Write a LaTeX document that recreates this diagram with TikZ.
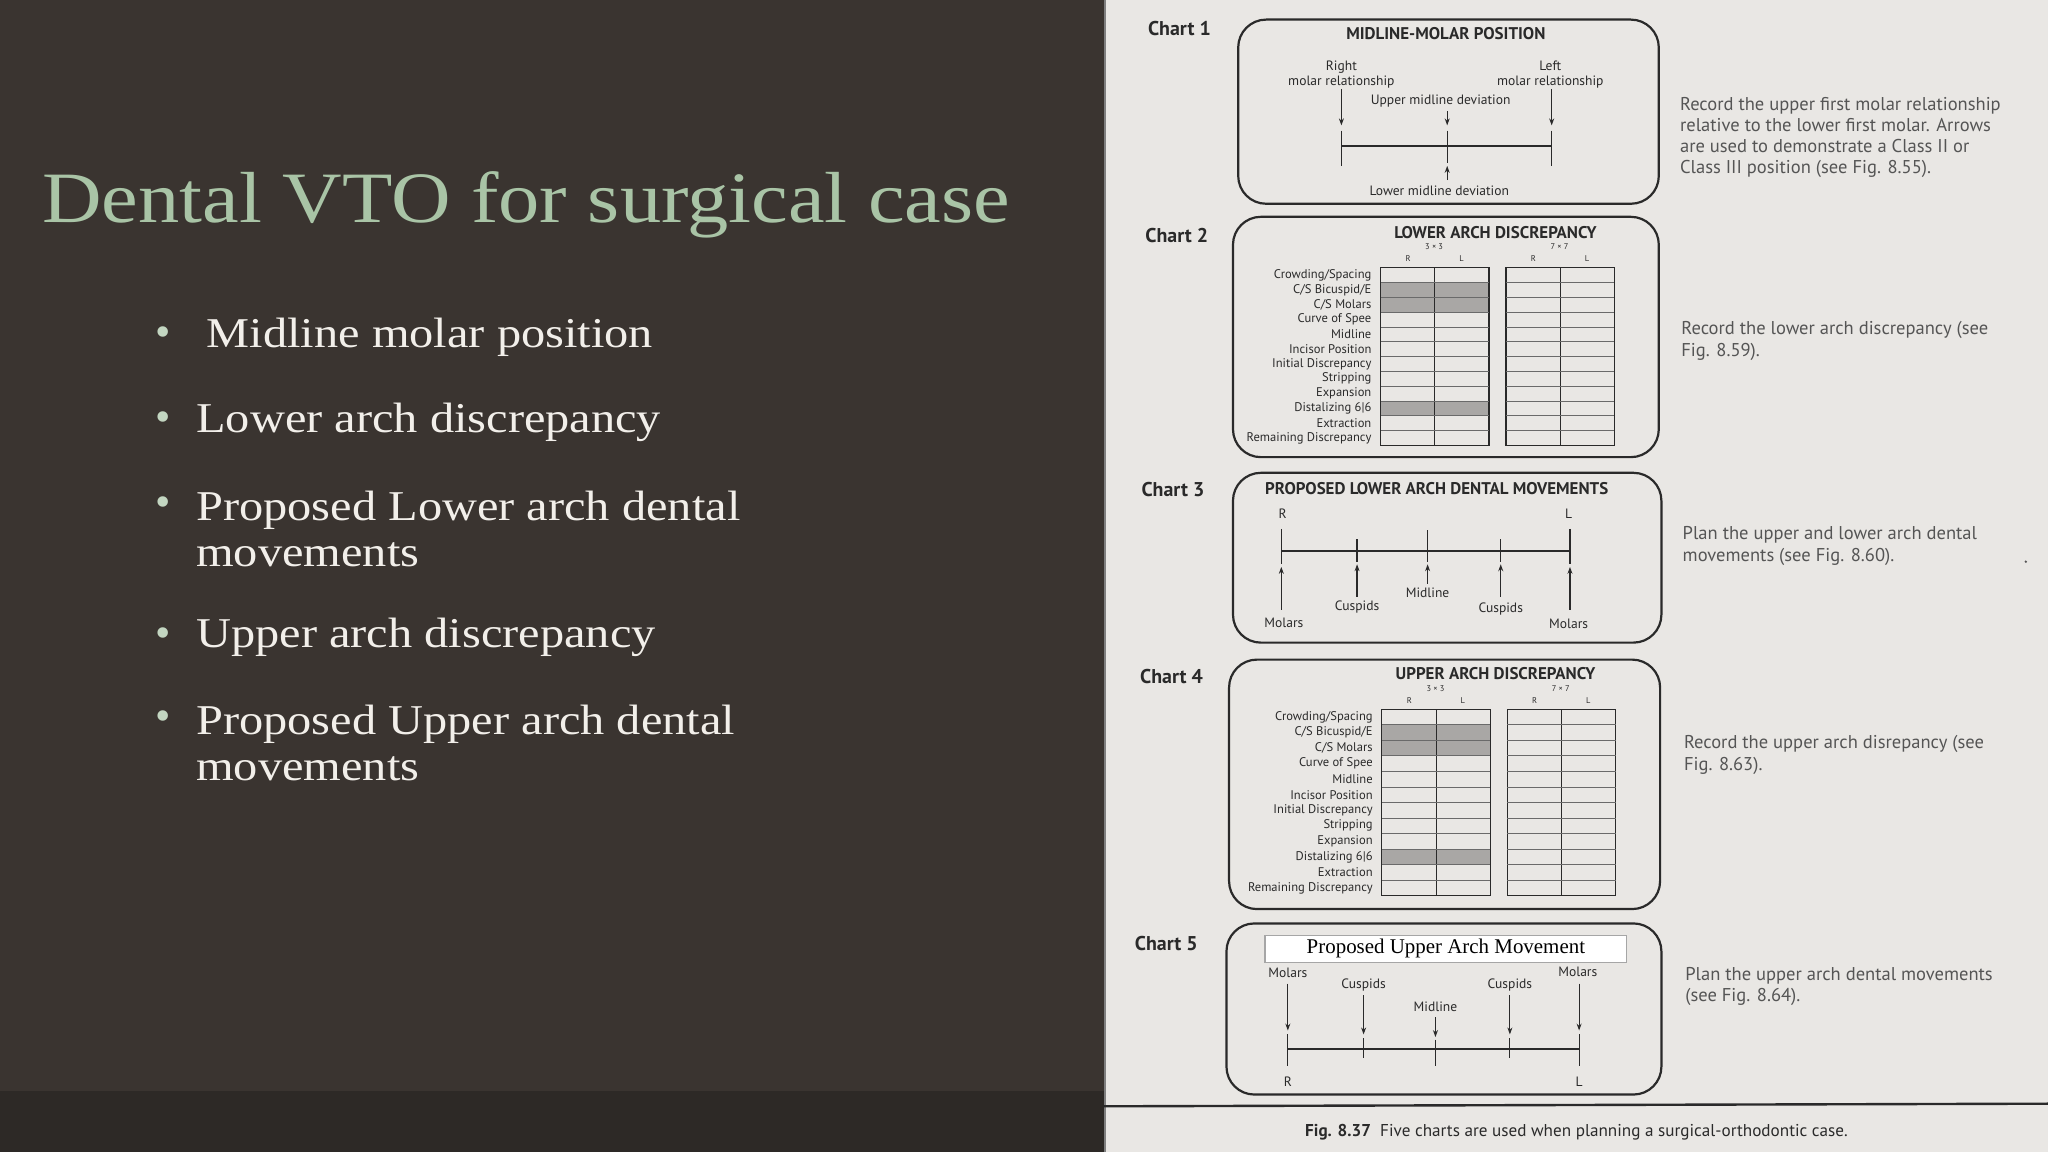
\documentclass[tikz,border=0pt]{standalone}
\usepackage{fontspec}
\setmainfont{Liberation Serif}[FakeStretch=1.14]
\newfontfamily\plainserif{Liberation Serif}
\newfontfamily\chartfont{PT Sans}
\usetikzlibrary{arrows.meta}
\definecolor{bgdark}{HTML}{3A3430}
\definecolor{bgstrip}{HTML}{2D2926}
\definecolor{paper}{HTML}{E9E7E4}
\definecolor{ink}{HTML}{2A2A2A}
\definecolor{grayink}{HTML}{555555}
\definecolor{titlegreen}{HTML}{A9C4A6}
\definecolor{bullettxt}{HTML}{F2EFEA}
\definecolor{shadegray}{HTML}{9A9896}
\tikzset{
  chartbox/.style={draw=ink,line width=1.1pt,rounded corners=14},
  clabel/.style={font=\chartfont\bfseries\fontsize{10}{12}\selectfont,text=ink},
  ctitle/.style={font=\chartfont\bfseries\fontsize{8.5}{9}\selectfont,text=ink},
  small/.style={font=\chartfont\fontsize{6.8}{7.4}\selectfont,text=ink,align=center,inner sep=0.5pt},
  tiny/.style={font=\chartfont\fontsize{4.2}{5}\selectfont,text=ink,inner sep=0.5pt},
  rowlab/.style={font=\chartfont\fontsize{6.3}{7}\selectfont,text=ink,anchor=east,inner sep=0.5pt},
  side/.style={font=\chartfont\fontsize{9.3}{10.6}\selectfont,text=grayink,anchor=north west,align=left,inner sep=0pt},
  bul/.style={font=\fontsize{21.3}{23}\selectfont,text=bullettxt,anchor=west,align=left,inner sep=0pt},
  axis/.style={draw=ink,line width=0.9pt},
  tick/.style={draw=ink,line width=0.6pt},
  arr/.style={draw=ink,line width=0.6pt,-{Stealth[length=3.5pt,width=2.5pt]}},
}
\newcommand{\archtable}[3]{% #1 x left, #2 y top, #3 row height
  \fill[shadegray,opacity=0.8] (#1,#2+#3) rectangle (#1+83,#2+3*#3);
  \fill[shadegray,opacity=0.8] (#1,#2+9*#3) rectangle (#1+83,#2+10*#3);
  \foreach \tx in {#1, #1+96}{
    \draw[tick] (\tx,#2) rectangle (\tx+83,#2+12*#3);
    \draw[tick] (\tx+41.5,#2) -- (\tx+41.5,#2+12*#3);
    \foreach \r in {1,...,11} \draw[draw=ink!70,line width=0.4pt] (\tx,#2+\r*#3) -- (\tx+83,#2+\r*#3);
  }
  \foreach \lab [count=\i] in {Crowding/Spacing,C/S Bicuspid/E,C/S Molars,Curve of Spee,Midline,Incisor Position,Initial Discrepancy,Stripping,Expansion,Distalizing 6|6,Extraction,Remaining Discrepancy}
    \node[rowlab] at (#1-6,#2+\i*#3-0.5*#3) {\lab};
  \node[tiny] at (#1+41,#2-16) {3 × 3};
  \node[tiny] at (#1+137,#2-16) {7 × 7};
  \node[tiny] at (#1+21,#2-7) {R};
  \node[tiny] at (#1+62,#2-7) {L};
  \node[tiny] at (#1+117,#2-7) {R};
  \node[tiny] at (#1+158,#2-7) {L};
}
\begin{document}
\begin{tikzpicture}[x=0.653bp,y=-0.653bp]
\useasboundingbox (0,0) rectangle (1568,882);
\fill[bgdark] (0,0) rectangle (845,882);
\fill[bgstrip] (0,835) rectangle (845,882);
\fill[paper] (845,0) rectangle (1568,882);
\draw[ink!60,line width=1pt] (846,0) -- (846,882);

% left slide
\node[anchor=base west,inner sep=0pt,font=\fontsize{36.3}{40}\selectfont,text=titlegreen] (title) at (32,170) {Dental VTO for surgical case};
\foreach \yy in {258,323,388,488,552} \node[text=titlegreen!70!white,font=\plainserif\fontsize{22}{22}\selectfont] at (125,\yy) {•};
\node[bul] (b1) at (158,258) {Midline molar position};
\node[bul] (b2) at (150,323) {Lower arch discrepancy};
\node[bul] (b3) at (150,405) {Proposed Lower arch dental\\movements};
\node[bul] (b4) at (150,488) {Upper arch discrepancy};
\node[bul] (b5) at (150,569) {Proposed Upper arch dental\\movements};

% Chart 1
\node[clabel] (c1) at (903,22) {Chart 1};
\draw[chartbox] (948,15) rectangle (1270,156);
\node[ctitle] (t1) at (1107,26) {MIDLINE-MOLAR POSITION};
\node[small] (rm) at (1027,57) {Right\\molar relationship};
\node[small] (lm) at (1187,57) {Left\\molar relationship};
\node[small] (um) at (1103,77) {Upper midline deviation};
\node[small] (lo) at (1102,146) {Lower midline deviation};
\coordinate (a1) at (1027,112); \coordinate (a2) at (1188,112); \coordinate (a3) at (1108,112);
\draw[axis] (a1) -- (a2);
\draw[arr] (1027,68) -- (1027,96); \draw[tick] (1027,100) -- (1027,127);
\draw[arr] (1188,68) -- (1188,96); \draw[tick] (1188,100) -- (1188,127);
\draw[arr] (1108,85) -- (1108,96); \draw[tick] (1108,100) -- (1108,125);
\draw[arr] (1108,138) -- (1108,127);
\node[side] (s1) at (1286,74) {Record the upper first molar relationship\\relative to the lower first molar. Arrows\\are used to demonstrate a Class II or\\Class III position (see Fig. 8.55).};

% Chart 2
\node[clabel] (c2) at (901,180) {Chart 2};
\draw[chartbox] (944,166) rectangle (1270,350);
\node[ctitle] (t2) at (1145,178) {LOWER ARCH DISCREPANCY};
\archtable{1057}{205}{11.33}
\node[side] (s2) at (1287,246) {Record the lower arch discrepancy (see\\Fig. 8.59).};

% Chart 3
\node[clabel] (c3) at (898,375) {Chart 3};
\draw[chartbox] (944,362) rectangle (1272,492);
\node[ctitle] (t3) at (1100,374) {PROPOSED LOWER ARCH DENTAL MOVEMENTS};
\node[small] at (982,393) {R};
\node[small] at (1201,393) {L};
\draw[axis] (981,422) -- (1202,422);
\draw[tick] (981,405) -- (981,432); \draw[arr] (981,467) -- (981,434);
\draw[tick] (1039,413) -- (1039,430); \draw[arr] (1039,457) -- (1039,432);
\draw[tick] (1093,406) -- (1093,430); \draw[arr] (1093,447) -- (1093,432);
\draw[tick] (1149,413) -- (1149,430); \draw[arr] (1149,457) -- (1149,432);
\draw[tick] (1202,405) -- (1202,432); \draw[arr] (1202,467) -- (1202,434);
\node[small] at (983,477) {Molars};
\node[small] at (1039,465) {Cuspids};
\node[small] at (1093,454) {Midline};
\node[small] at (1149,466) {Cuspids};
\node[small] at (1201,478) {Molars};
\node[side] (s3) at (1288,403) {Plan the upper and lower arch dental\\movements (see Fig. 8.60).};
\fill[grayink] (1551,430) circle (1);

% Chart 4
\node[clabel] (c4) at (897,518) {Chart 4};
\draw[chartbox] (941,505) rectangle (1271,696);
\node[ctitle] (t4) at (1145,516) {UPPER ARCH DISCREPANCY};
\archtable{1058}{543}{11.9}
\node[side] (s4) at (1289,563) {Record the upper arch disrepancy (see\\Fig. 8.63).};

% Chart 5
\node[clabel] (c5) at (893,722) {Chart 5};
\draw[chartbox] (939,707) rectangle (1272,838);
\node[draw=gray!70,fill=white,line width=0.6pt,minimum width=277*0.653bp,minimum height=21*0.653bp,inner sep=0pt,font=\plainserif\fontsize{10.5}{12}\selectfont] (pum) at (1107,726.5) {Proposed Upper Arch Movement};
\node[small] at (986,745) {Molars};
\node[small] at (1044,754) {Cuspids};
\node[small] at (1099,771) {Midline};
\node[small] at (1156,754) {Cuspids};
\node[small] at (1208,744) {Molars};
\draw[axis] (986,803) -- (1209,803);
\draw[arr] (986,753) -- (986,789); \draw[tick] (986,792) -- (986,816);
\draw[arr] (1044,762) -- (1044,792); \draw[tick] (1044,795) -- (1044,810);
\draw[arr] (1099,779) -- (1099,794); \draw[tick] (1099,796) -- (1099,816);
\draw[arr] (1156,762) -- (1156,792); \draw[tick] (1156,795) -- (1156,810);
\draw[arr] (1209,753) -- (1209,789); \draw[tick] (1209,792) -- (1209,816);
\node[small] at (986,828) {R};
\node[small] at (1209,828) {L};
\node[side] (s5) at (1290,740) {Plan the upper arch dental movements\\(see Fig. 8.64).};

% caption
\draw[ink,line width=1.2pt] (845,847) -- (1568,845);
\node[font=\chartfont\fontsize{8.6}{10}\selectfont,text=ink] (cap) at (1207,867) {\textbf{Fig. 8.37}\ \ Five charts are used when planning a surgical-orthodontic case.};
\end{tikzpicture}
\end{document}
